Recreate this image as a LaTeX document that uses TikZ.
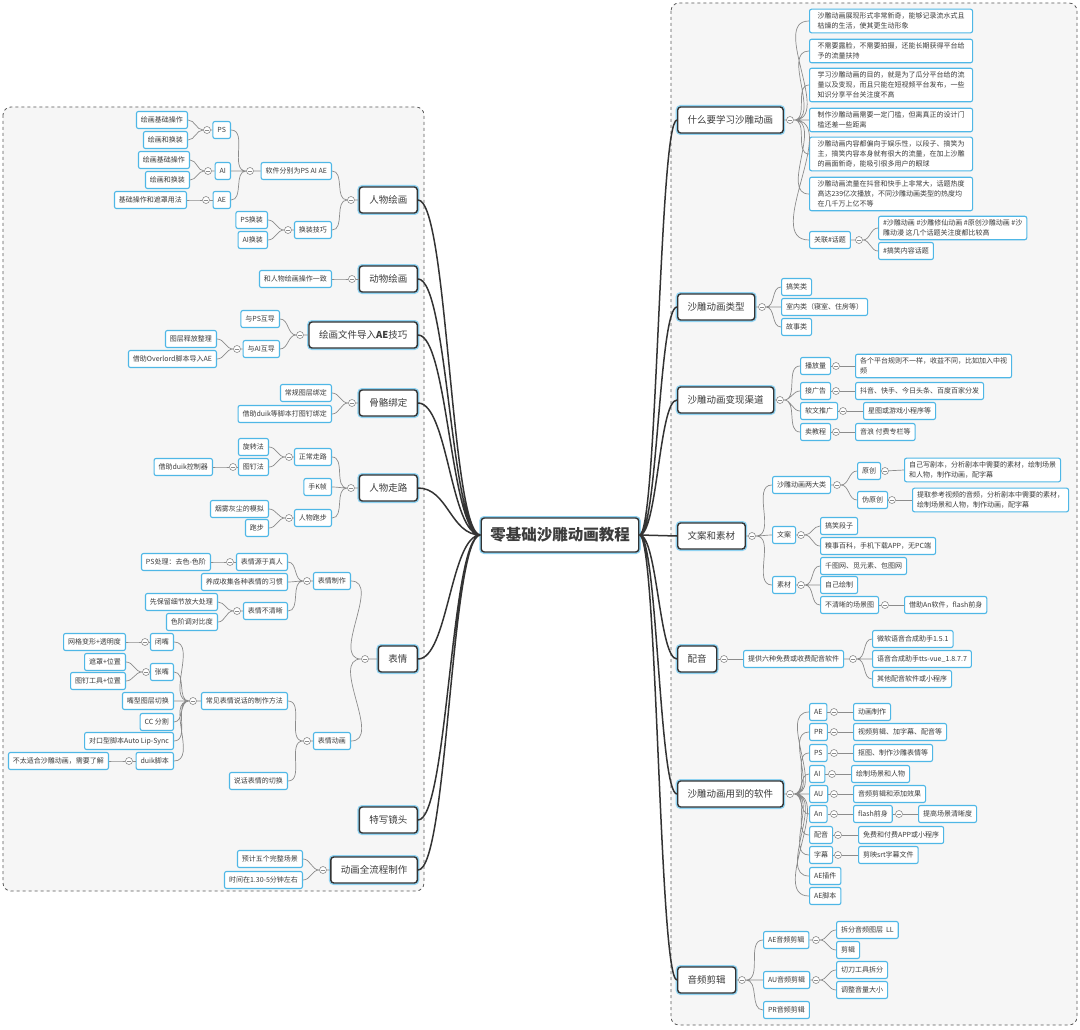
\documentclass[tikz,border=0pt]{standalone}
\usepackage{fontspec}
\setmainfont{Noto Sans CJK SC}
\usetikzlibrary{shapes,positioning,calc}
\usepackage{xcolor}
\definecolor{leafblue}{HTML}{4FB7E6}
\definecolor{halo}{HTML}{8FD3F2}
\definecolor{dark}{HTML}{333333}
\definecolor{twigc}{HTML}{8C8C8C}
\definecolor{txt}{HTML}{3C3C3C}
\definecolor{panelfill}{HTML}{F6F6F6}
\definecolor{paneldraw}{HTML}{5A5A5A}

\begin{document}
\begin{tikzpicture}[
  x=1pt, y=-1pt,
  leaf/.style={rectangle, draw=leafblue, line width=1.1pt, rounded corners=2pt, fill=white, text=txt, font=\fontsize{7}{10}\selectfont, inner xsep=4.5pt, inner ysep=3.5pt, minimum height=17pt, align=left},
  topic/.style={rectangle, draw=dark, line width=1.4pt, rounded corners=3pt, fill=white, text=txt, font=\fontsize{9.5}{11}\selectfont, inner xsep=10pt, minimum height=26pt, preaction={draw=halo, line width=4pt}},
  core/.style={topic, font=\fontsize{15.5}{18}\selectfont\bfseries, minimum height=34pt, inner xsep=9pt},
  fold/.style={circle, draw=twigc, fill=white, line width=0.6pt, minimum size=7pt, inner sep=0pt, path picture={\draw[twigc, line width=0.6pt] ([xshift=1.5pt]path picture bounding box.west) -- ([xshift=-1.5pt]path picture bounding box.east);}},
  twig/.style={draw=twigc, line width=0.7pt},
  trunk/.style={draw=dark, line width=1.5pt},
  lhs/.style={anchor=east},
  rhs/.style={anchor=west},
  panel/.style={draw=paneldraw, fill=panelfill, dashed, line width=0.8pt, rounded corners=8pt}
]
\useasboundingbox (0,0) rectangle (1080,1030);
\fill[white] (0,0) rectangle (1080,1030);
\path[panel] (3,107) rectangle (424,891);
\path[panel] (671,3) rectangle (1077,1025);

% centre
\node[core] (c) at (560,535) {零基础沙雕动画教程};

% ---- left: 人物绘画
\node[topic, lhs] (rw) at (418,200) {人物绘画};
\node[fold] (rwf) at (351,200) {};
\node[leaf, lhs] (rw1) at (332,171) {软件分别为PS AI AE};
\node[leaf, lhs] (rw2) at (332,230) {换装技巧};
\node[fold] (rw1f) at (250,171) {};
\node[leaf, lhs] (ps) at (231,130) {PS};
\node[leaf, lhs] (ai) at (231,171) {AI};
\node[leaf, lhs] (ae) at (231,200) {AE};
\node[fold] (psf) at (207,130) {};
\node[leaf, lhs] (ps1) at (188,120) {绘画基础操作};
\node[leaf, lhs] (ps2) at (188,140) {绘画和换装};
\node[fold] (aif) at (208,171) {};
\node[leaf, lhs] (ai1) at (190,160) {绘画基础操作};
\node[leaf, lhs] (ai2) at (190,180) {绘画和换装};
\node[fold] (aef) at (206,200) {};
\node[leaf, lhs] (ae1) at (187,200) {基础操作和遮罩用法};
\node[fold] (rw2f) at (288,230) {};
\node[leaf, lhs] (hz1) at (268,220) {PS换装};
\node[leaf, lhs] (hz2) at (268,240) {AI换装};
\draw[twig, out=180, in=0] (rw.west) -- (rwf) (rwf) to (rw1.east) (rwf) to (rw2.east);
\draw[twig, out=180, in=0] (rw1.west) -- (rw1f) (rw1f) to (ps.east) (rw1f) to (ai.east) (rw1f) to (ae.east);
\draw[twig, out=180, in=0] (ps.west) -- (psf) (psf) to (ps1.east) (psf) to (ps2.east);
\draw[twig, out=180, in=0] (ai.west) -- (aif) (aif) to (ai1.east) (aif) to (ai2.east);
\draw[twig, out=180, in=0] (ae.west) -- (aef) (aef) to (ae1.east);
\draw[twig, out=180, in=0] (rw2.west) -- (rw2f) (rw2f) to (hz1.east) (rw2f) to (hz2.east);

% ---- left: 动物绘画
\node[topic, lhs] (dw) at (418,279) {动物绘画};
\node[fold] (dwf) at (352,279) {};
\node[leaf, lhs] (dw1) at (332,279) {和人物绘画操作一致};
\draw[twig, out=180, in=0] (dw.west) -- (dwf) (dwf) to (dw1.east);

% ---- left: 导入AE
\node[topic, lhs] (dr) at (418,335) {绘画文件导入\textbf{AE}技巧};
\node[fold] (drf) at (300,335) {};
\node[leaf, lhs] (dr1) at (280,319) {与PS互导};
\node[leaf, lhs] (dr2) at (280,349) {与AI互导};
\node[fold] (dr2f) at (237,349) {};
\node[leaf, lhs] (dr21) at (217,339) {图层释放整理};
\node[leaf, lhs] (dr22) at (217,359) {借助Overlord脚本导入AE};
\draw[twig, out=180, in=0] (dr.west) -- (drf) (drf) to (dr1.east) (drf) to (dr2.east);
\draw[twig, out=180, in=0] (dr2.west) -- (dr2f) (dr2f) to (dr21.east) (dr2f) to (dr22.east);

% ---- left: 骨骼绑定
\node[topic, lhs] (gg) at (418,403) {骨骼绑定};
\node[fold] (ggf) at (352,403) {};
\node[leaf, lhs] (gg1) at (332,393) {常规图层绑定};
\node[leaf, lhs] (gg2) at (332,414) {借助duik等脚本打图钉绑定};
\draw[twig, out=180, in=0] (gg.west) -- (ggf) (ggf) to (gg1.east) (ggf) to (gg2.east);

% ---- left: 人物走路
\node[topic, lhs] (zl) at (418,488) {人物走路};
\node[fold] (zlf) at (351,488) {};
\node[leaf, lhs] (zl1) at (332,457) {正常走路};
\node[leaf, lhs] (zl2) at (332,487) {手K帧};
\node[leaf, lhs] (zl3) at (332,518) {人物跑步};
\node[fold] (zl1f) at (289,457) {};
\node[leaf, lhs] (zl11) at (269,447) {旋转法};
\node[leaf, lhs] (zl12) at (269,467) {图钉法};
\node[fold] (zl12f) at (233,467) {};
\node[leaf, lhs] (zl121) at (213,467) {借助duik控制器};
\node[fold] (zl3f) at (289,518) {};
\node[leaf, lhs] (zl31) at (269,509) {烟雾灰尘的模拟};
\node[leaf, lhs] (zl32) at (269,528) {跑步};
\draw[twig, out=180, in=0] (zl.west) -- (zlf) (zlf) to (zl1.east) (zlf) to (zl2.east) (zlf) to (zl3.east);
\draw[twig, out=180, in=0] (zl1.west) -- (zl1f) (zl1f) to (zl11.east) (zl1f) to (zl12.east);
\draw[twig, out=180, in=0] (zl12.west) -- (zl12f) (zl12f) to (zl121.east);
\draw[twig, out=180, in=0] (zl3.west) -- (zl3f) (zl3f) to (zl31.east) (zl3f) to (zl32.east);

% ---- left: 表情
\node[topic, lhs] (bq) at (418,659) {表情};
\node[fold] (bqf) at (365,659) {};
\node[leaf, lhs] (bq1) at (351,581) {表情制作};
\node[leaf, lhs] (bq2) at (351,741) {表情动画};
\node[fold] (bq1f) at (307,581) {};
\node[leaf, lhs] (bq11) at (288,562) {表情源于真人};
\node[leaf, lhs] (bq12) at (288,582) {养成收集各种表情的习惯};
\node[leaf, lhs] (bq13) at (288,611) {表情不清晰};
\node[fold] (bq11f) at (230,562) {};
\node[leaf, lhs] (bq111) at (211,562) {PS处理：去色-色阶};
\node[fold] (bq13f) at (237,611) {};
\node[leaf, lhs] (bq131) at (218,602) {先保留细节放大处理};
\node[leaf, lhs] (bq132) at (218,622) {色阶调对比度};
\node[fold] (bq2f) at (307,741) {};
\node[leaf, lhs] (bq21) at (288,701) {常见表情说话的制作方法};
\node[leaf, lhs] (bq22) at (288,781) {说话表情的切换};
\node[fold] (bq21f) at (193,701) {};
\node[leaf, lhs] (zz1) at (174,642) {闭嘴};
\node[leaf, lhs] (zz2) at (174,672) {张嘴};
\node[leaf, lhs] (zz3) at (174,701) {嘴型图层切换};
\node[leaf, lhs] (zz4) at (174,722) {CC 分割};
\node[leaf, lhs] (zz5) at (174,741) {对口型脚本Auto Lip-Sync};
\node[leaf, lhs] (zz6) at (174,761) {duik脚本};
\node[fold] (zz1f) at (145,642) {};
\node[leaf, lhs] (zz11) at (126,642) {网格变形+透明度};
\node[fold] (zz2f) at (146,672) {};
\node[leaf, lhs] (zz21) at (126,662) {遮罩+位置};
\node[leaf, lhs] (zz22) at (126,681) {图钉工具+位置};
\node[fold] (zz6f) at (129,761) {};
\node[leaf, lhs] (zz61) at (109,761) {不太适合沙雕动画，需要了解};
\draw[twig, out=180, in=0] (bq.west) -- (bqf) (bqf) to (bq1.east) (bqf) to (bq2.east);
\draw[twig, out=180, in=0] (bq1.west) -- (bq1f) (bq1f) to (bq11.east) (bq1f) to (bq12.east) (bq1f) to (bq13.east);
\draw[twig, out=180, in=0] (bq11.west) -- (bq11f) (bq11f) to (bq111.east);
\draw[twig, out=180, in=0] (bq13.west) -- (bq13f) (bq13f) to (bq131.east) (bq13f) to (bq132.east);
\draw[twig, out=180, in=0] (bq2.west) -- (bq2f) (bq2f) to (bq21.east) (bq2f) to (bq22.east);
\draw[twig, out=180, in=0] (bq21.west) -- (bq21f) (bq21f) to (zz1.east) (bq21f) to (zz2.east) (bq21f) to (zz3.east)
  (bq21f) to (zz4.east) (bq21f) to (zz5.east) (bq21f) to (zz6.east);
\draw[twig, out=180, in=0] (zz1.west) -- (zz1f) (zz1f) to (zz11.east);
\draw[twig, out=180, in=0] (zz2.west) -- (zz2f) (zz2f) to (zz21.east) (zz2f) to (zz22.east);
\draw[twig, out=180, in=0] (zz6.west) -- (zz6f) (zz6f) to (zz61.east);

% ---- left: 特写镜头, 全流程
\node[topic, lhs] (tx) at (418,820) {特写镜头};
\node[topic, lhs] (lc) at (418,870) {动画全流程制作};
\node[fold] (lcf) at (323,870) {};
\node[leaf, lhs] (lc1) at (303,859) {预计五个完整场景};
\node[leaf, lhs] (lc2) at (303,880) {时间在1.30-5分钟左右};
\draw[twig, out=180, in=0] (lc.west) -- (lcf) (lcf) to (lc1.east) (lcf) to (lc2.east);

% ---- right: 为什么学
\node[topic, rhs] (wh) at (677,120) {什么要学习沙雕动画};
\node[fold] (whf) at (790,120) {};
\node[leaf, rhs, minimum width=163pt] (wh1) at (809,21) {沙雕动画展现形式非常新奇，能够记录流水式且\\枯燥的生活，使其更生动形象};
\node[leaf, rhs, minimum width=163pt] (wh2) at (809,51) {不需要露脸，不需要拍摄，还能长期获得平台给\\予的流量扶持};
\node[leaf, rhs, minimum width=163pt] (wh3) at (809,85) {学习沙雕动画的目的，就是为了瓜分平台给的流\\量以及变现，而且只能在短视频平台发布，一些\\知识分享平台关注度不高};
\node[leaf, rhs, minimum width=163pt] (wh4) at (809,120) {制作沙雕动画需要一定门槛，但离真正的设计门\\槛还差一些距离};
\node[leaf, rhs, minimum width=163pt] (wh5) at (809,154) {沙雕动画内容都偏向于娱乐性，以段子、搞笑为\\主，搞笑内容本身就有很大的流量，在加上沙雕\\的画面新奇，能吸引很多用户的眼球};
\node[leaf, rhs, minimum width=163pt] (wh6) at (809,194) {沙雕动画流量在抖音和快手上非常大，话题热度\\高达239亿次播放，不同沙雕动画类型的热度均\\在几千万上亿不等};
\node[leaf, rhs] (wh7) at (809,240) {关联\#话题};
\node[fold] (wh7f) at (859,240) {};
\node[leaf, rhs] (wh71) at (878,228) {\#沙雕动画 \#沙雕修仙动画 \#原创沙雕动画 \#沙\\雕动漫 这几个话题关注度都比较高};
\node[leaf, rhs] (wh72) at (878,251) {\#搞笑内容话题};
\draw[twig, out=0, in=180] (wh.east) -- (whf) (whf) to (wh1.west) (whf) to (wh2.west) (whf) to (wh3.west) (whf) to (wh4.west)
  (whf) to (wh5.west) (whf) to (wh6.west) (whf) to (wh7.west);
\draw[twig, out=0, in=180] (wh7.east) -- (wh7f) (wh7f) to (wh71.west) (wh7f) to (wh72.west);

% ---- right: 类型
\node[topic, rhs] (lx) at (677,307) {沙雕动画类型};
\node[fold] (lxf) at (762,307) {};
\node[leaf, rhs] (lx1) at (781,287) {搞笑类};
\node[leaf, rhs] (lx2) at (781,307) {室内类（寝室、住房等）};
\node[leaf, rhs] (lx3) at (781,327) {故事类};
\draw[twig, out=0, in=180] (lx.east) -- (lxf) (lxf) to (lx1.west) (lxf) to (lx2.west) (lxf) to (lx3.west);

% ---- right: 变现
\node[topic, rhs] (bx) at (677,400) {沙雕动画变现渠道};
\node[fold] (bxf) at (780,400) {};
\node[leaf, rhs] (bx1) at (800,366) {播放量};
\node[leaf, rhs] (bx2) at (800,391) {接广告};
\node[leaf, rhs] (bx3) at (800,411) {软文推广};
\node[leaf, rhs] (bx4) at (800,432) {卖教程};
\node[fold] (bx1f) at (836,366) {};
\node[fold] (bx2f) at (836,391) {};
\node[fold] (bx3f) at (843,411) {};
\node[fold] (bx4f) at (836,432) {};
\node[leaf, rhs] (bx11) at (855,366) {各个平台规则不一样，收益不同，比如加入中视\\频};
\node[leaf, rhs] (bx21) at (855,391) {抖音、快手、今日头条、百度百家分发};
\node[leaf, rhs] (bx31) at (863,411) {星图或游戏小程序等};
\node[leaf, rhs] (bx41) at (855,432) {音浪 付费专栏等};
\draw[twig, out=0, in=180] (bx.east) -- (bxf) (bxf) to (bx1.west) (bxf) to (bx2.west) (bxf) to (bx3.west) (bxf) to (bx4.west);
\draw[twig] (bx1.east) -- (bx1f) -- (bx11.west);
\draw[twig] (bx2.east) -- (bx2f) -- (bx21.west);
\draw[twig] (bx3.east) -- (bx3f) -- (bx31.west);
\draw[twig] (bx4.east) -- (bx4f) -- (bx41.west);

% ---- right: 文案和素材
\node[topic, rhs] (wa) at (677,536) {文案和素材};
\node[fold] (waf) at (752,536) {};
\node[leaf, rhs] (wa1) at (772,485) {沙雕动画两大类};
\node[leaf, rhs] (wa2) at (772,535) {文案};
\node[leaf, rhs] (wa3) at (772,585) {素材};
\node[fold] (wa1f) at (837,485) {};
\node[leaf, rhs] (yc) at (857,471) {原创};
\node[leaf, rhs] (wyc) at (857,500) {伪原创};
\node[fold] (ycf) at (885,471) {};
\node[leaf, rhs] (yc1) at (904,470) {自己写剧本，分析剧本中需要的素材，绘制场景\\和人物，制作动画，配字幕};
\node[fold] (wycf) at (892,500) {};
\node[leaf, rhs] (wyc1) at (912,500) {提取参考视频的音频，分析剧本中需要的素材，\\绘制场景和人物，制作动画，配字幕};
\node[fold] (wa2f) at (801,535) {};
\node[leaf, rhs] (wa21) at (820,526) {搞笑段子};
\node[leaf, rhs] (wa22) at (820,546) {糗事百科，手机下载APP，无PC端};
\node[fold] (wa3f) at (801,585) {};
\node[leaf, rhs] (wa31) at (820,566) {千图网、觅元素、包图网};
\node[leaf, rhs] (wa32) at (820,585) {自己绘制};
\node[leaf, rhs] (wa33) at (820,605) {不清晰的场景图};
\node[fold] (wa33f) at (885,605) {};
\node[leaf, rhs] (wa331) at (904,605) {借助An软件，flash前身};
\draw[twig, out=0, in=180] (wa.east) -- (waf) (waf) to (wa1.west) (waf) to (wa2.west) (waf) to (wa3.west);
\draw[twig, out=0, in=180] (wa1.east) -- (wa1f) (wa1f) to (yc.west) (wa1f) to (wyc.west);
\draw[twig] (yc.east) -- (ycf) -- (yc1.west);
\draw[twig] (wyc.east) -- (wycf) -- (wyc1.west);
\draw[twig, out=0, in=180] (wa2.east) -- (wa2f) (wa2f) to (wa21.west) (wa2f) to (wa22.west);
\draw[twig, out=0, in=180] (wa3.east) -- (wa3f) (wa3f) to (wa31.west) (wa3f) to (wa32.west) (wa3f) to (wa33.west);
\draw[twig] (wa33.east) -- (wa33f) -- (wa331.west);

% ---- right: 配音
\node[topic, rhs] (py) at (677,659) {配音};
\node[fold] (pyf) at (724,659) {};
\node[leaf, rhs] (py1) at (743,659) {提供六种免费或收费配音软件};
\node[fold] (py1f) at (853,659) {};
\node[leaf, rhs] (py11) at (872,639) {微软语音合成助手1.5.1};
\node[leaf, rhs] (py12) at (872,659) {语音合成助手tts-vue\_1.8.7.7};
\node[leaf, rhs] (py13) at (872,679) {其他配音软件或小程序};
\draw[twig] (py.east) -- (pyf) -- (py1.west);
\draw[twig, out=0, in=180] (py1.east) -- (py1f) (py1f) to (py11.west) (py1f) to (py12.west) (py1f) to (py13.west);

% ---- right: 软件
\node[topic, rhs] (rj) at (677,794) {沙雕动画用到的软件};
\node[fold] (rjf) at (790,794) {};
\node[leaf, rhs] (sae) at (809,712) {AE};
\node[leaf, rhs] (spr) at (809,732) {PR};
\node[leaf, rhs] (sps) at (809,753) {PS};
\node[leaf, rhs] (sai) at (809,774) {AI};
\node[leaf, rhs] (sau) at (809,794) {AU};
\node[leaf, rhs] (san) at (809,814) {An};
\node[leaf, rhs] (spy) at (809,835) {配音};
\node[leaf, rhs] (szm) at (809,855) {字幕};
\node[leaf, rhs] (scj) at (809,876) {AE插件};
\node[leaf, rhs] (sjb) at (809,896) {AE脚本};
\node[fold] (saef) at (834,712) {};
\node[fold] (sprf) at (834,732) {};
\node[fold] (spsf) at (834,753) {};
\node[fold] (saif) at (832,774) {};
\node[fold] (sauf) at (834,794) {};
\node[fold] (sanf) at (834,814) {};
\node[fold] (spyf) at (838,835) {};
\node[fold] (szmf) at (838,855) {};
\node[leaf, rhs] (sae1) at (853,712) {动画制作};
\node[leaf, rhs] (spr1) at (853,732) {视频剪辑、加字幕、配音等};
\node[leaf, rhs] (sps1) at (853,753) {抠图、制作沙雕表情等};
\node[leaf, rhs] (sai1) at (851,774) {绘制场景和人物};
\node[leaf, rhs] (sau1) at (853,794) {音频剪辑和添加效果};
\node[leaf, rhs] (san1) at (853,814) {flash前身};
\node[fold] (san1f) at (899,814) {};
\node[leaf, rhs] (san11) at (918,814) {提高场景清晰度};
\node[leaf, rhs] (spy1) at (858,835) {免费和付费APP或小程序};
\node[leaf, rhs] (szm1) at (858,855) {剪映srt字幕文件};
\draw[twig, out=0, in=180] (rj.east) -- (rjf) (rjf) to (sae.west) (rjf) to (spr.west) (rjf) to (sps.west) (rjf) to (sai.west)
  (rjf) to (sau.west) (rjf) to (san.west) (rjf) to (spy.west) (rjf) to (szm.west) (rjf) to (scj.west) (rjf) to (sjb.west);
\draw[twig] (sae.east) -- (saef) -- (sae1.west);
\draw[twig] (spr.east) -- (sprf) -- (spr1.west);
\draw[twig] (sps.east) -- (spsf) -- (sps1.west);
\draw[twig] (sai.east) -- (saif) -- (sai1.west);
\draw[twig] (sau.east) -- (sauf) -- (sau1.west);
\draw[twig] (san.east) -- (sanf) -- (san1.west);
\draw[twig] (san1.east) -- (san1f) -- (san11.west);
\draw[twig] (spy.east) -- (spyf) -- (spy1.west);
\draw[twig] (szm.east) -- (szmf) -- (szm1.west);

% ---- right: 音频剪辑
\node[topic, rhs] (yp) at (677,980) {音频剪辑};
\node[fold] (ypf) at (742,980) {};
\node[leaf, rhs] (yp1) at (763,940) {AE音频剪辑};
\node[leaf, rhs] (yp2) at (763,980) {AU音频剪辑};
\node[leaf, rhs] (yp3) at (763,1010) {PR音频剪辑};
\node[fold] (yp1f) at (816,940) {};
\node[leaf, rhs] (yp11) at (836,930) {拆分音频图层\ \ LL};
\node[leaf, rhs] (yp12) at (836,950) {剪辑};
\node[fold] (yp2f) at (816,980) {};
\node[leaf, rhs] (yp21) at (836,970) {切刀工具拆分};
\node[leaf, rhs] (yp22) at (836,990) {调整音量大小};
\draw[twig, out=0, in=180] (yp.east) -- (ypf) (ypf) to (yp1.west) (ypf) to (yp2.west) (ypf) to (yp3.west);
\draw[twig, out=0, in=180] (yp1.east) -- (yp1f) (yp1f) to (yp11.west) (yp1f) to (yp12.west);
\draw[twig, out=0, in=180] (yp2.east) -- (yp2f) (yp2f) to (yp21.west) (yp2f) to (yp22.west);

% ---- trunks from the centre
\draw[trunk, out=180, in=0, distance=30pt] (c.west) to (rw.east) (c.west) to (dw.east) (c.west) to (dr.east) (c.west) to (gg.east)
  (c.west) to (zl.east) (c.west) to (bq.east) (c.west) to (tx.east) (c.west) to (lc.east);
\draw[trunk, out=0, in=180, distance=18pt] (c.east) to (wh.west) (c.east) to (lx.west) (c.east) to (bx.west) (c.east) to (wa.west)
  (c.east) to (py.west) (c.east) to (rj.west) (c.east) to (yp.west);
\end{tikzpicture}
\end{document}
